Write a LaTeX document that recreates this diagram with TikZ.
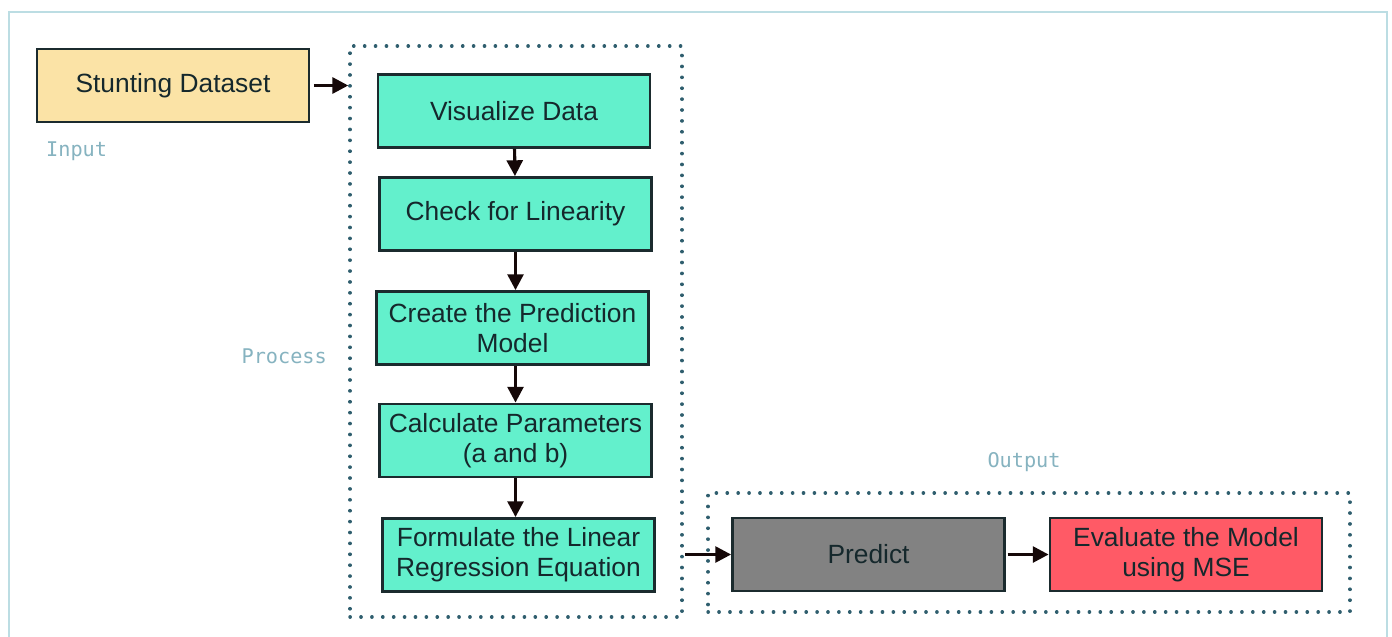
\documentclass[tikz,border=0pt]{standalone}
\usepackage{fontspec}
\setmainfont{Liberation Sans}
\setmonofont{DejaVu Sans Mono}
\usetikzlibrary{arrows.meta, positioning, calc}
\definecolor{framecol}{HTML}{BCDDE3}
\definecolor{dotcol}{HTML}{2F5E6E}
\definecolor{labelcol}{HTML}{86B3C0}
\definecolor{boxline}{HTML}{1B2B2E}
\definecolor{boxtext}{HTML}{15282C}
\definecolor{datafill}{HTML}{FBE3A6}
\definecolor{stepfill}{HTML}{63F0CC}
\definecolor{predfill}{HTML}{828282}
\definecolor{evalfill}{HTML}{FF5A66}
\definecolor{arrowcol}{HTML}{150808}

\begin{document}
\begin{tikzpicture}[x=0.02cm, y=-0.02cm,
    stepbox/.style={draw=boxline, line width=1.6pt, minimum width=5.44cm, minimum height=1.46cm,
        inner sep=2pt, align=center, text=boxtext, font=\fontsize{15}{17}\selectfont},
    groupbox/.style={draw=dotcol, line width=2pt, line cap=round, dash pattern=on 0.1pt off 6.1pt},
    grouplabel/.style={text=labelcol, font=\ttfamily\fontsize{11.5}{13}\selectfont},
    flow/.style={draw=arrowcol, line width=1.8pt, -{Triangle[length=9pt, width=9pt]}}]
        \useasboundingbox (0,0) rectangle (1392,636);
        \fill [white] (0,0) rectangle (1392,636);
        \draw [framecol, line width=1.6pt] (9,650) -- (9,12) -- (1387,12) -- (1387,650);

        % input
        \node [stepbox, fill=datafill] (data) at (173,85.5) {Stunting Dataset};
        \node [grouplabel, anchor=west] (inlbl) at (40,151) {Input};

        % process column
        \node [groupbox, minimum width=6.64cm, minimum height=11.42cm] (proc) at (516,331.5) {};
        \node [grouplabel, anchor=east] (proclbl) at (333,356) {Process};
        \node [stepbox, fill=stepfill] (vis) at (514,111) {Visualize Data};
        \node [stepbox, fill=stepfill] (lin) at (515.5,214) {Check for Linearity};
        \node [stepbox, fill=stepfill] (model) at (512.5,328) {Create the Prediction\\Model};
        \node [stepbox, fill=stepfill] (params) at (515.5,440.5) {Calculate Parameters\\(a and b)};
        \node [stepbox, fill=stepfill] (eqn) at (518.5,555) {Formulate the Linear\\Regression Equation};

        % output row
        \node [groupbox, minimum width=12.84cm, minimum height=2.38cm] (out) at (1029,552.5) {};
        \node [grouplabel] (outlbl) at (1024,462) {Output};
        \node [stepbox, fill=predfill] (pred) at (868.5,554.5) {Predict};
        \node [stepbox, fill=evalfill] (eval) at (1186,554.5) {Evaluate the Model\\using MSE};

        \draw [flow, shorten <=2pt] (data) -- (data -| proc.west);
        \draw [flow] (vis) -- (lin);
        \draw [flow] (lin) -- (lin |- model.north);
        \draw [flow] (model.south -| params) -- (params);
        \draw [flow] (params) -- (params |- eqn.north);
        \draw [flow, shorten <=1pt] (proc.east |- pred) -- (pred);
        \draw [flow, shorten <=1pt] (pred) -- (eval);
\end{tikzpicture}
\end{document}
